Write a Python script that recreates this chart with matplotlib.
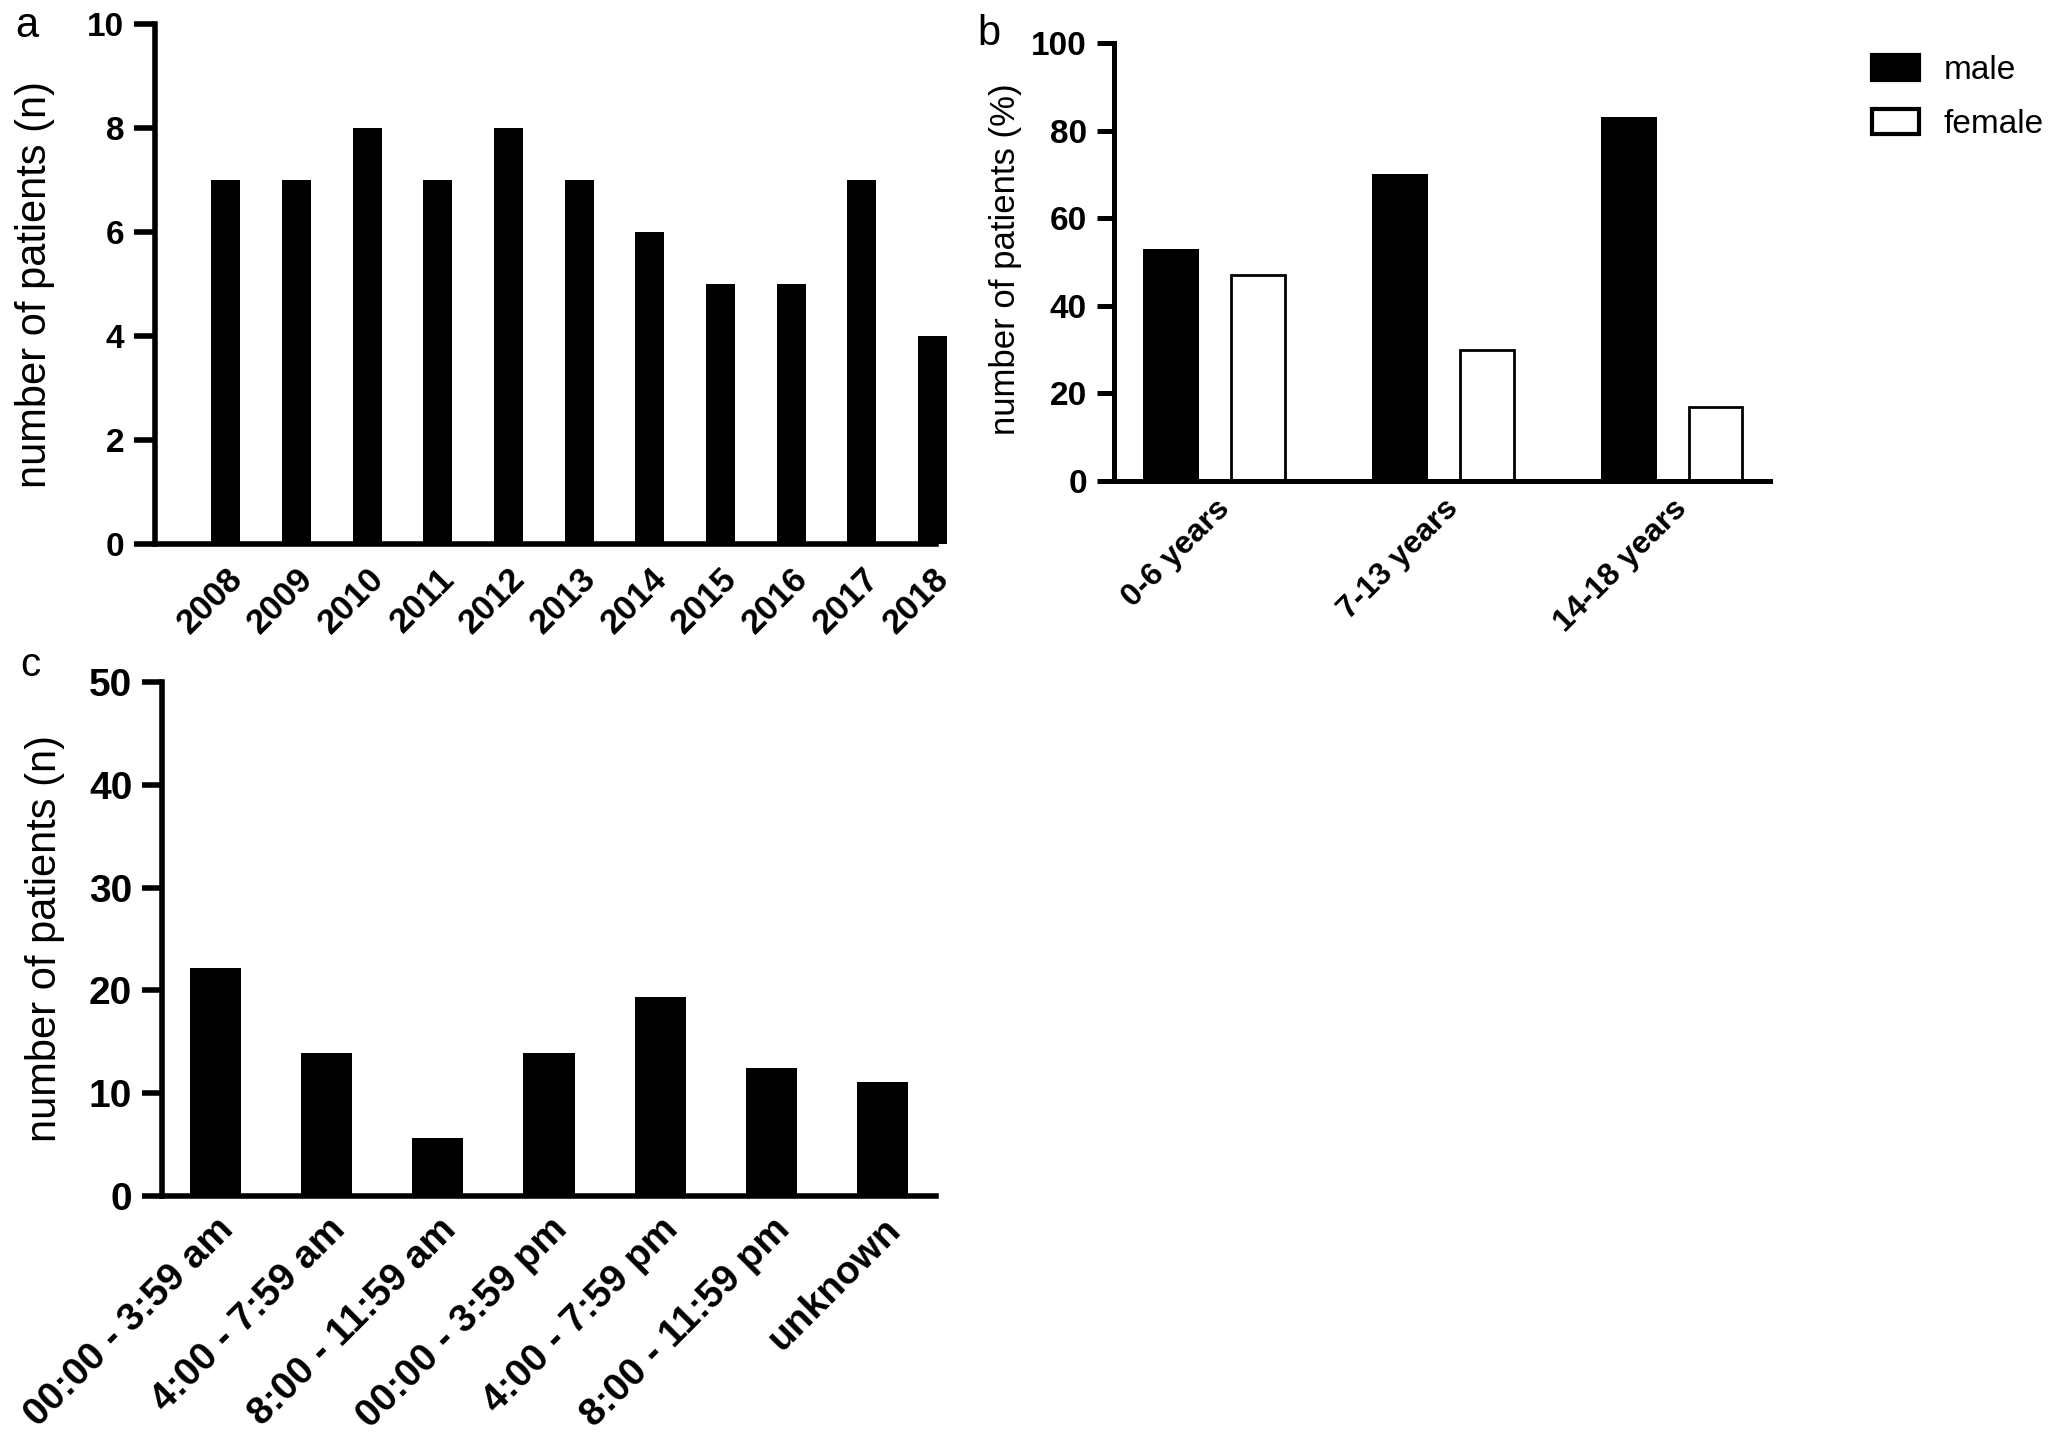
import matplotlib
matplotlib.use('Agg')
import matplotlib.pyplot as plt
from matplotlib.patches import Patch
import numpy as np

plt.rcParams['font.family'] = ['Liberation Sans', 'DejaVu Sans']

# panel a: patients per year
years = ['2008', '2009', '2010', '2011', '2012', '2013', '2014', '2015', '2016', '2017', '2018']
patients_year = [7, 7, 8, 7, 8, 7, 6, 5, 5, 7, 4]

# panel b: sex distribution per age group (%)
age_groups = ['0-6 years', '7-13 years', '14-18 years']
male_pct = [53, 70, 83]
female_pct = [47, 30, 17]

# panel c: time of day
time_slots = ['00:00 - 3:59 am', '4:00 - 7:59 am', '8:00 - 11:59 am', '00:00 - 3:59 pm',
              '4:00 - 7:59 pm', '8:00 - 11:59 pm', 'unknown']
patients_time = [22.2, 13.9, 5.6, 13.9, 19.4, 12.5, 11.1]

W, H = 2055, 1443
fig = plt.figure(figsize=(W / 100, H / 100), dpi=100)


def box(left, top, right, bottom):
    # pixel box (top-left origin) -> figure fraction
    return [left / W, 1 - bottom / H, (right - left) / W, (bottom - top) / H]


def style(ax, lw, ticklen, ysize, xsize, xpad):
    ax.spines[['top', 'right']].set_visible(False)
    for s in ('left', 'bottom'):
        ax.spines[s].set_linewidth(lw)
    ax.tick_params(axis='y', length=ticklen, width=lw, labelsize=ysize, pad=7)
    ax.tick_params(axis='x', length=0, labelsize=xsize, pad=xpad)
    plt.setp(ax.get_yticklabels(), fontweight='bold')
    plt.setp(ax.get_xticklabels(), fontweight='bold', rotation=45, ha='right',
             va='top', rotation_mode='anchor')


# a
ax1 = fig.add_axes(box(155, 24, 936, 544))
x1 = np.arange(len(years))
ax1.bar(x1, patients_year, width=0.41, color='black', clip_on=False)
ax1.set_xlim(-1, 10.05)
ax1.set_ylim(0, 10)
ax1.set_yticks(np.arange(0, 11, 2))
ax1.set_xticks(x1, years)
style(ax1, 4, 15, 24, 25, 13)

# b
ax2 = fig.add_axes(box(1114, 43, 1770, 481))
x2 = np.arange(len(age_groups))
ax2.bar(x2 - 0.189, male_pct, width=0.245, color='black', label='male')
ax2.bar(x2 + 0.189, female_pct, width=0.235, color='white', edgecolor='black',
        linewidth=2, label='female')
ax2.set_xlim(-0.44, 2.427)
ax2.set_ylim(0, 100)
ax2.set_yticks(np.arange(0, 101, 20))
ax2.set_xticks(x2, age_groups)
style(ax2, 3.6, 12.5, 24, 23, 9)

handles = [Patch(facecolor='black', edgecolor='black', linewidth=3),
           Patch(facecolor='white', edgecolor='black', linewidth=3)]
fig.legend(handles, ['male', 'female'], loc='upper left',
           bbox_to_anchor=(1872 / W, 1 - 55 / H), frameon=False, fontsize=24,
           handlelength=1.41, handleheight=0.75, handletextpad=0.75,
           labelspacing=0.7, borderpad=0, borderaxespad=0)

# c
ax3 = fig.add_axes(box(162, 682, 936, 1196))
x3 = np.arange(len(time_slots))
ax3.bar(x3, patients_time, width=0.46, color='black')
ax3.set_xlim(-0.48, 6.48)
ax3.set_ylim(0, 50)
ax3.set_yticks(np.arange(0, 51, 10))
ax3.set_xticks(x3, time_slots)
style(ax3, 4, 14.4, 28, 28, 11)

# y labels
fig.text(35 / W, 1 - 285 / H, 'number of patients (n)', rotation=90,
         ha='center', va='center', fontsize=30)
fig.text(1006 / W, 1 - 259 / H, 'number of patients (%)', rotation=90,
         ha='center', va='center', fontsize=25)
fig.text(45 / W, 1 - 938 / H, 'number of patients (n)', rotation=90,
         ha='center', va='center', fontsize=30)

# panel letters
fig.text(15 / W, 1 - 37 / H, 'a', fontsize=30, va='baseline')
fig.text(977 / W, 1 - 45 / H, 'b', fontsize=30, va='baseline')
fig.text(20 / W, 1 - 676 / H, 'c', fontsize=29, va='baseline')

fig.savefig('out.png', dpi=100)
